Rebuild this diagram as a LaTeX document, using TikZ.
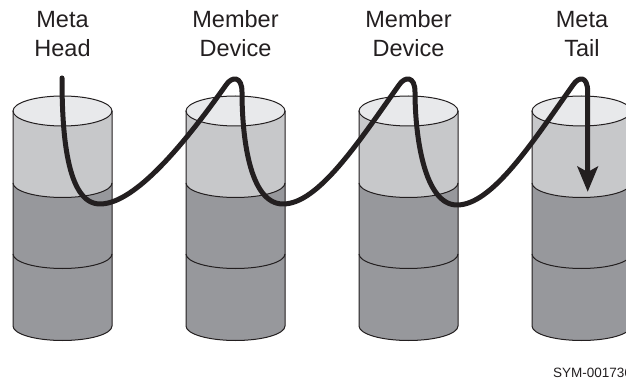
\documentclass[tikz,border=0pt]{standalone}
\usepackage{fontspec}
\setmainfont{Liberation Sans}
\usetikzlibrary{arrows.meta}
\definecolor{captop}{HTML}{E8E9EB}
\definecolor{bandlight}{HTML}{C7C8CA}
\definecolor{banddark}{HTML}{97989C}
\definecolor{inkline}{HTML}{231F20}
\tikzset{
  rim/.style={draw=inkline,line width=1pt},
  lbl/.style={align=center,font=\fontsize{23.5}{29}\selectfont,text=inkline,inner sep=0pt},
  wire/.style={draw=inkline,line width=5pt,line cap=round,line join=round}
}
\newcommand{\drumshape}[1]{%
  \begin{scope}[shift={(#1,0)}]
    \path[fill=banddark] (-49.5,-183) -- (-49.5,-326) arc[start angle=180,end angle=360,x radius=49.5,y radius=14.5] -- (49.5,-183) -- cycle;
    \path[fill=bandlight] (-49.5,-111) -- (-49.5,-183) arc[start angle=180,end angle=360,x radius=49.5,y radius=14.5] -- (49.5,-111) -- cycle;
    \path[rim,fill=captop] (0,-111) ellipse[x radius=49.5,y radius=15];
    \draw[rim] (-49.5,-183) arc[start angle=180,end angle=360,x radius=49.5,y radius=14.5];
    \draw[rim] (-49.5,-254) arc[start angle=180,end angle=360,x radius=49.5,y radius=14.5];
    \draw[rim] (-49.5,-111) -- (-49.5,-326) arc[start angle=180,end angle=360,x radius=49.5,y radius=14.5] -- (49.5,-111);
  \end{scope}}
\begin{document}
\begin{tikzpicture}[x=1pt,y=1pt]
\useasboundingbox (0,0) rectangle (626,-379);
\clip (0,0) rectangle (626,-379);
\drumshape{62.5}
\drumshape{235.5}
\drumshape{408.5}
\drumshape{581.5}
\node[lbl] (n1) at (62.5,-34) {Meta\\Head};
\node[lbl] (n2) at (235.5,-34) {Member\\Device};
\node[lbl] (n3) at (408.5,-34) {Member\\Device};
\node[lbl] (n4) at (582,-34) {Meta\\Tail};
\node[anchor=base west,inner sep=0pt,font=\fontsize{13.5}{16}\selectfont,text=inkline] (code) at (553,-377) {SYM-001736};
\coordinate (tip) at (587.7,-191.7);
\coordinate (neck) at (587.7,-172);
\draw[wire] (62,-78) .. controls (62,-130) and (66,-204) .. (100,-204)
  .. controls (135,-204) and (185,-143) .. (226,-85)
  .. controls (232,-76) and (242,-76) .. (242,-92)
  .. controls (242,-135) and (249,-204) .. (283,-204)
  .. controls (318,-204) and (358,-143) .. (399,-85)
  .. controls (405,-76) and (415,-76) .. (415,-92)
  .. controls (415,-135) and (424,-205) .. (457,-205)
  .. controls (492,-205) and (532,-143) .. (573,-85)
  .. controls (579,-76) and (587.7,-76) .. (587.7,-92)
  -- (neck);
\fill[inkline] (tip) -- (577,-166) -- (587.7,-172) -- (598.4,-166) -- cycle;
\end{tikzpicture}
\end{document}
